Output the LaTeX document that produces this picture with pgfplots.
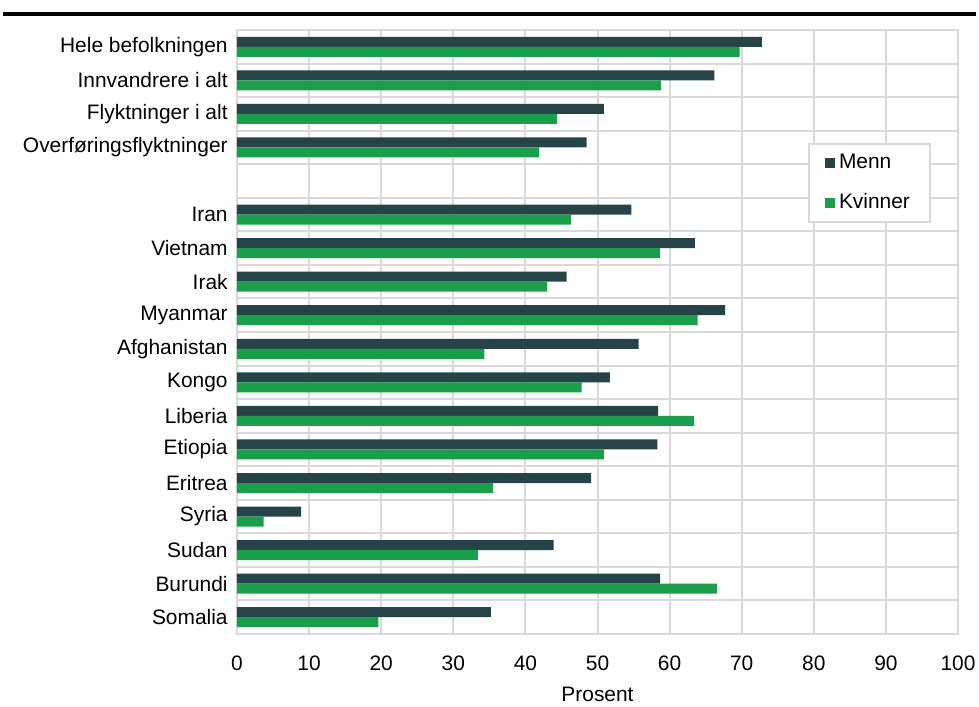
\documentclass[border=0pt]{standalone}
\usepackage{fontspec}
\setmainfont{Liberation Sans}
\usepackage{pgfplots}
\pgfplotsset{compat=1.18}

\definecolor{menn}{HTML}{264348}
\definecolor{kvinner}{HTML}{1A9E4A}
\definecolor{gridgray}{HTML}{D9D9D9}

\newcommand{\lblfont}{\fontsize{10.5}{12.6}\selectfont}

\begin{document}
\begin{tikzpicture}[x=1bp,y=1bp]
\lblfont
\useasboundingbox (-118.5,-36) rectangle (371,317);
\draw[line width=1.6bp] (-117,310) -- (369.5,310);
\begin{axis}[
  at={(0,0)}, anchor=south west,
  scale only axis,
  width=360.5bp, height=302bp,
  xmin=0, xmax=100,
  ymin=-0.5, ymax=17.5,
  xtick={0,10,...,100},
  ytick={0,...,17},
  yticklabels={Somalia,Burundi,Sudan,Syria,Eritrea,Etiopia,Liberia,Kongo,Afghanistan,Myanmar,Irak,Vietnam,Iran,{},Overføringsflyktninger,Flyktninger i alt,Innvandrere i alt,Hele befolkningen},
  minor ytick={-0.5,0.5,...,17.5},
  xmajorgrids, yminorgrids,
  grid style={gridgray, line width=1bp},
  minor grid style={gridgray, line width=1bp},
  axis line style={gridgray, line width=1bp},
  major tick length=0pt, minor tick length=0pt,
  tick style={draw=none},
  /pgf/number format/assume math mode=true,
  tick label style={font=\lblfont},
  xticklabel style={yshift=-7.5bp},
  yticklabel style={xshift=-1bp},
  label style={font=\lblfont},
  xlabel={Prosent},
  xlabel style={yshift=-1bp},
  xbar, bar width=5bp,
  legend style={at={(0.792,0.813)}, anchor=north west, draw=gridgray, line width=1bp,
    fill=white, font=\lblfont, row sep=7bp,
    inner xsep=8bp, inner ysep=3bp, legend cell align=left},
  legend image code/.code={\fill[#1] (0bp,-2.5bp) rectangle (5bp,2.5bp);},
]
\addplot[fill=menn, draw=none, bar shift=2.5bp] coordinates {
  (72.8,17) (66.2,16) (50.9,15) (48.5,14)
  (54.7,12) (63.5,11) (45.7,10) (67.7,9) (55.7,8) (51.7,7)
  (58.4,6) (58.3,5) (49.1,4) (8.9,3) (43.9,2) (58.7,1) (35.2,0)
};
\addlegendentry{Menn}
\addplot[fill=kvinner, draw=none, bar shift=-2.5bp] coordinates {
  (69.7,17) (58.8,16) (44.4,15) (41.9,14)
  (46.3,12) (58.7,11) (43.0,10) (63.9,9) (34.3,8) (47.8,7)
  (63.4,6) (50.9,5) (35.5,4) (3.7,3) (33.4,2) (66.6,1) (19.6,0)
};
\addlegendentry{Kvinner}
\end{axis}
\end{tikzpicture}
\end{document}
